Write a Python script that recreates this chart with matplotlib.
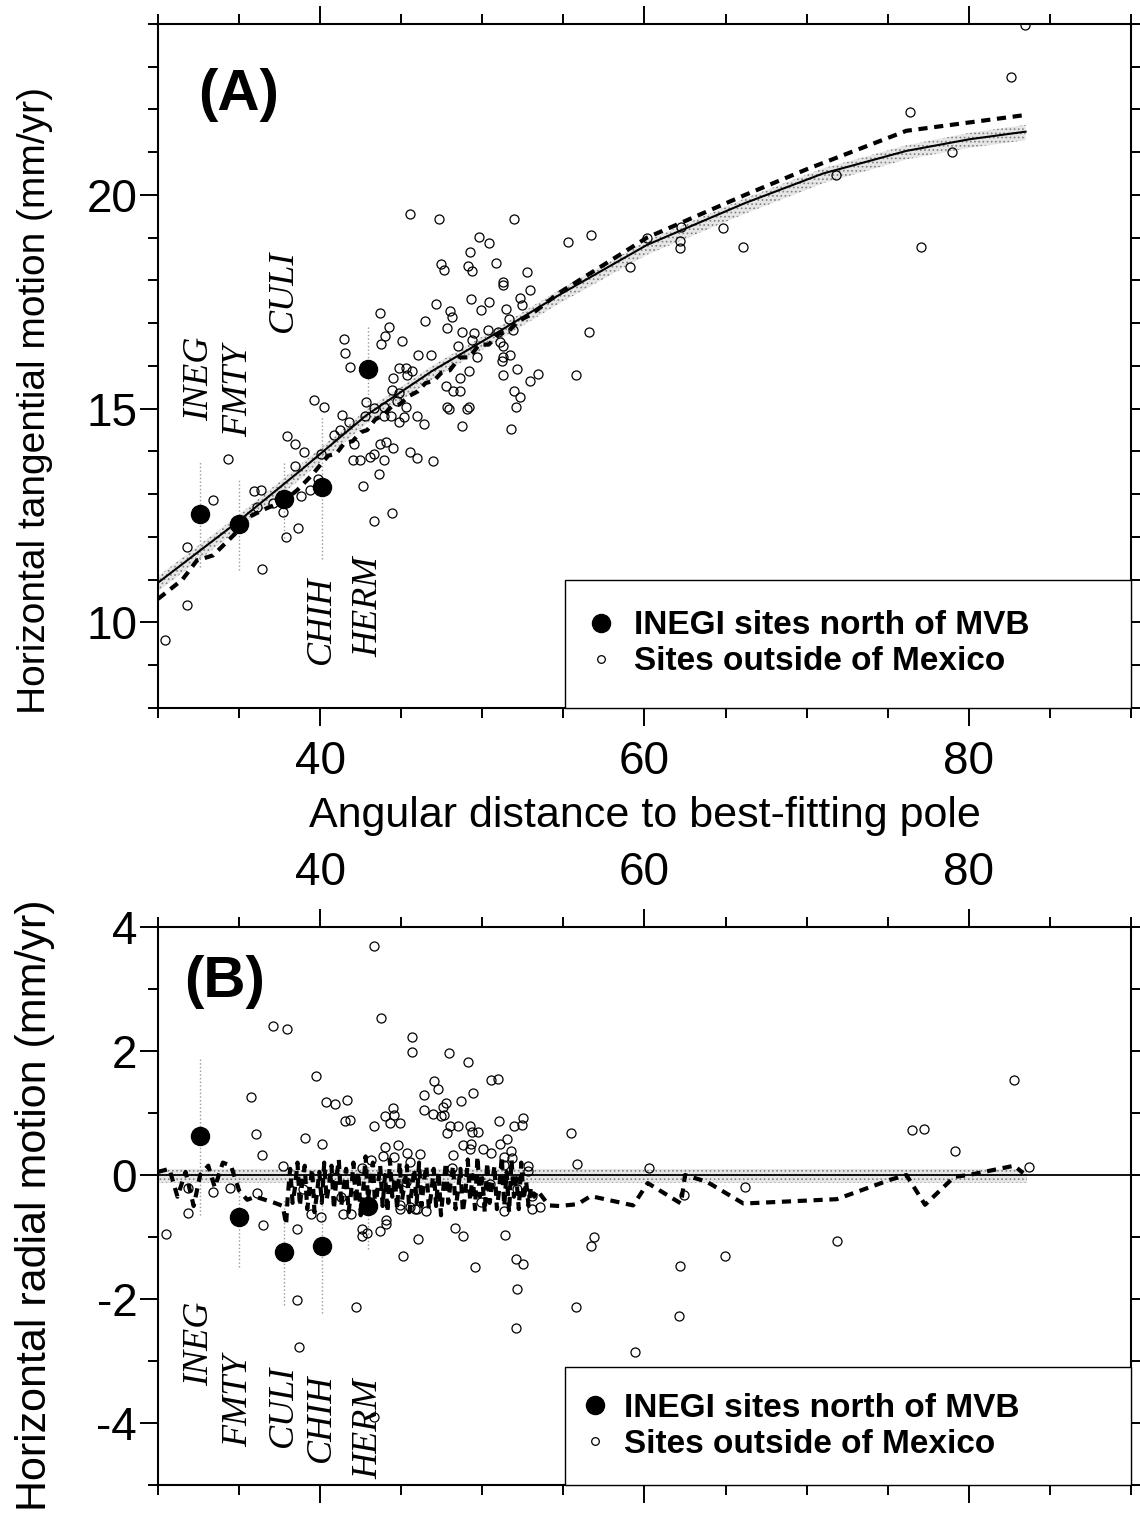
import matplotlib.pyplot as plt
from matplotlib.lines import Line2D
from matplotlib.ticker import FixedLocator, MultipleLocator

plt.rcParams['font.family'] = ['Liberation Sans', 'DejaVu Sans']
plt.rcParams['axes.unicode_minus'] = False
plt.rcParams['hatch.linewidth'] = 0.7

# INEGI sites north of the MVB (same sites in both panels)
inegi_names = ['INEG', 'FMTY', 'CULI', 'CHIH', 'HERM']
inegi_dist = [32.58, 34.98, 37.75, 40.09, 42.98]
inegi_tang = [12.53, 12.30, 12.88, 13.16, 15.92]
inegi_tang_err = [1.23, 1.08, 0.90, 1.67, 1.03]
inegi_rad = [0.63, -0.68, -1.24, -1.15, -0.50]
inegi_rad_err = [1.28, 0.80, 0.86, 1.08, 0.70]

# sites outside of Mexico, panel A (distance, tangential rate)
out_tang_dist = [83.48, 82.62, 76.40, 78.98, 71.78, 64.83, 62.25, 60.15, 66.06, 77.08,
                 55.29, 56.71, 59.11, 62.18, 62.18, 56.58, 55.78,
                 45.57, 47.35, 51.97, 49.82, 50.43, 49.26, 47.48, 47.66, 49.14, 49.38,
                 50.86, 52.77, 51.29, 51.29, 52.95, 52.34, 52.46, 49.32, 50.43, 47.17,
                 48.03, 48.15, 49.94, 51.48, 51.66, 43.66, 44.22, 43.97, 43.78, 41.45,
                 41.51, 41.82, 46.49, 47.85, 48.77, 45.02, 46.06, 46.86, 48.52, 49.51,
                 49.38, 50.37, 50.98, 51.11, 51.29, 51.91, 51.72, 51.23, 51.29, 49.69,
                 52.15, 51.29, 53.45, 52.95, 49.20, 48.65, 47.78, 48.22, 48.65, 51.97,
                 52.34, 52.09, 47.85, 47.97, 49.08, 49.20, 48.77, 51.78, 44.89, 45.32,
                 45.69, 45.38, 44.52, 44.40, 44.89, 44.71, 45.32, 42.80, 43.29, 43.91,
                 42.74, 43.91, 44.34, 45.20, 44.89, 46.00, 46.43, 39.60, 40.22, 41.32,
                 41.75, 41.20, 40.83, 42.06, 43.66, 44.03, 44.52, 45.51, 46.00, 46.98,
                 42.00, 42.43, 43.05, 43.35, 43.91, 43.60, 42.62, 38.98, 40.03, 39.35,
                 33.38, 34.31, 35.91, 36.34, 37.08, 37.69, 37.88, 38.62, 37.94, 38.43,
                 38.43, 38.80, 31.78, 31.78, 30.43, 36.40, 43.35, 44.46, 39.85, 36.09]
out_tang = [23.98, 22.76, 21.94, 21.01, 20.47, 19.23, 19.25, 18.99, 18.78, 18.78,
            18.90, 19.06, 18.31, 18.92, 18.76, 16.79, 15.78,
            19.56, 19.44, 19.44, 19.02, 18.88, 18.67, 18.38, 18.24, 18.34, 18.22,
            18.41, 18.20, 17.96, 17.89, 17.78, 17.59, 17.42, 17.56, 17.49, 17.45,
            17.28, 17.14, 17.31, 17.33, 17.10, 17.24, 16.91, 16.70, 16.51, 16.63,
            16.30, 15.97, 17.05, 16.89, 16.79, 16.58, 16.25, 16.25, 16.46, 16.77,
            16.60, 16.84, 16.79, 16.56, 16.46, 16.84, 16.25, 16.11, 16.21, 16.21,
            15.93, 15.78, 15.81, 15.64, 15.88, 15.71, 15.53, 15.41, 15.41, 15.41,
            15.27, 15.04, 15.04, 14.99, 14.99, 15.04, 14.59, 14.52, 15.95, 15.95,
            15.88, 15.78, 15.71, 15.43, 15.36, 15.18, 15.04, 15.15, 15.01, 15.04,
            14.82, 14.82, 14.82, 14.80, 14.68, 14.82, 14.64, 15.20, 15.04, 14.85,
            14.68, 14.50, 14.38, 14.17, 14.17, 14.22, 14.07, 13.98, 13.84, 13.77,
            13.79, 13.79, 13.86, 13.93, 13.79, 13.47, 13.19, 13.98, 13.93, 13.09,
            12.86, 13.82, 13.07, 13.09, 12.79, 12.58, 11.99, 12.22, 14.36, 14.17,
            13.65, 12.95, 11.76, 10.40, 9.58, 11.26, 12.37, 12.55, 13.35, 12.69]

# best-fitting model (solid), alternative model (dashed), stippled uncertainty band
model_dist = [30.0, 35.0, 38.74, 42.86, 46.9, 51.05, 54.74, 60.15, 66.2, 71.0, 76.15, 80.0, 83.5]
model_tang = [10.93, 12.38, 13.54, 14.85, 15.88, 16.81, 17.66, 18.83, 19.81, 20.5, 21.03, 21.3, 21.48]
band_lo = [10.73, 12.18, 13.34, 14.65, 15.68, 16.61, 17.46, 18.60, 19.56, 20.27, 20.83, 21.1, 21.28]
band_hi = [11.08, 12.52, 13.68, 14.98, 16.0, 16.92, 17.78, 18.93, 19.92, 20.62, 21.16, 21.45, 21.64]

alt_dist = [30.0, 31.5, 32.4, 33.4, 34.9, 35.5, 36.7, 37.8, 38.6, 39.5, 40.0, 40.5, 41.0,
            41.5, 42.0, 42.5, 42.9, 43.4, 43.9, 44.4, 44.9, 45.5, 46.0, 46.5, 47.0, 47.5,
            48.0, 48.6, 49.2, 49.8, 50.4, 51.0, 51.6, 52.2, 53.0, 54.7, 60.15, 66.2, 70.0,
            76.15, 83.5]
alt_tang = [10.55, 11.0, 11.45, 11.57, 12.13, 12.45, 12.67, 12.85, 13.1, 13.45, 13.68, 13.9,
            13.95, 14.2, 14.24, 14.45, 14.5, 14.75, 14.85, 15.05, 15.1, 15.3, 15.4, 15.6,
            15.65, 15.85, 15.9, 16.2, 16.2, 16.5, 16.5, 16.75, 16.8, 17.05, 17.2, 17.7,
            19.0, 20.0, 20.6, 21.5, 21.87]

# sites outside of Mexico, panel B (distance, radial rate)
out_rad_dist = [43.35, 43.78, 45.69, 45.69, 47.97, 49.14, 39.72, 47.05, 47.29, 46.43,
                49.45, 48.71, 50.55, 50.98, 40.34, 40.89, 41.63, 41.51, 41.82, 44.52,
                43.97, 44.58, 44.28, 44.95, 43.35, 46.43, 46.98, 47.48, 47.66, 47.60,
                47.78, 48.03, 48.52, 47.85, 49.26, 49.38, 49.75, 51.05, 51.97, 52.52,
                52.46, 51.54, 51.11, 50.06, 50.55, 48.83, 49.26, 49.32, 48.22, 39.05,
                40.09, 43.97, 44.77, 45.38, 46.18, 43.85, 44.58, 43.11, 45.57, 42.55,
                51.35, 51.78, 51.85, 51.35, 52.83, 52.83, 48.15, 40.95, 38.92, 50.49,
                45.32, 41.26, 52.15, 53.08, 44.95, 44.95, 45.51, 45.82, 46.00, 46.55,
                49.94, 51.35, 53.08, 53.57, 41.38, 41.88, 39.42, 40.03, 44.09, 44.09,
                43.66, 42.55, 42.55, 42.86, 46.06, 48.34, 48.83, 51.42,
                37.08, 37.94, 35.72, 36.03, 36.40, 37.69, 31.85, 33.38, 34.43, 36.09,
                31.85, 30.49, 36.46, 38.55, 38.55, 38.68, 42.18, 45.08, 49.57, 52.09,
                52.52, 52.15, 52.09, 55.78, 56.71, 56.89, 59.42, 43.35,
                55.48, 55.85, 60.28, 62.43, 66.18, 76.52, 77.26, 79.17, 82.80, 83.72,
                62.18, 62.12, 64.95, 71.85]
out_rad = [3.69, 2.54, 2.23, 1.99, 1.96, 1.83, 1.60, 1.52, 1.39, 1.29,
           1.33, 1.20, 1.54, 1.55, 1.18, 1.15, 1.21, 0.87, 0.89, 1.08,
           0.95, 0.97, 0.84, 0.84, 0.79, 1.05, 0.99, 0.95, 0.97, 1.10,
           1.16, 0.79, 0.79, 0.68, 0.79, 0.70, 0.70, 0.87, 0.79, 0.92,
           0.81, 0.58, 0.50, 0.42, 0.36, 0.49, 0.42, 0.50, 0.32, 0.60,
           0.50, 0.45, 0.49, 0.36, 0.34, 0.31, 0.29, 0.24, 0.21, 0.11,
           0.29, 0.39, 0.27, 0.16, 0.15, 0.06, 0.11, -0.03, -0.23, -0.15,
           -0.11, -0.36, -0.23, -0.34, -0.49, -0.55, -0.52, -0.55, -0.55, -0.58,
           -0.44, -0.58, -0.55, -0.52, -0.63, -0.63, -0.63, -0.68, -0.73, -0.79,
           -0.91, -0.87, -0.99, -0.94, -1.03, -0.86, -0.99, -0.97,
           2.41, 2.36, 1.26, 0.66, 0.32, 0.15, -0.21, -0.27, -0.21, -0.29,
           -0.61, -0.95, -0.81, -0.87, -2.02, -2.78, -2.13, -1.31, -1.49, -1.36,
           -1.44, -1.84, -2.46, -2.13, -1.15, -1.00, -2.86, -3.91,
           0.68, 0.18, 0.11, -0.32, -0.19, 0.73, 0.74, 0.39, 1.54, 0.13,
           -1.46, -2.28, -1.31, -1.07]

# predicted radial rates at the sites (dashed) and stippled band about zero
alt_rad_dist = [30.0, 30.7, 31.2, 31.7, 32.2, 32.6, 33.1, 33.5, 34.0, 34.5, 35.0, 35.5,
                36.0, 36.6, 37.2, 37.7, 37.9,
                38.0, 38.15, 38.3, 38.45, 38.6, 38.75, 38.9, 39.05, 39.2, 39.35, 39.5,
                39.65, 39.8, 39.95, 40.1, 40.25, 40.4, 40.55, 40.7, 40.85, 41.0, 41.15,
                41.3, 41.45, 41.6, 41.75, 41.9, 42.05, 42.2, 42.35, 42.5, 42.65, 42.8,
                42.95, 43.1, 43.25, 43.4, 43.55, 43.7, 43.85, 44.0, 44.15, 44.3, 44.45,
                44.6, 44.75, 44.9, 45.05, 45.2, 45.35, 45.5, 45.65, 45.8, 45.95, 46.1,
                46.25, 46.4, 46.55, 46.7, 46.85, 47.0, 47.15, 47.3, 47.45, 47.6, 47.75,
                47.9, 48.05, 48.2, 48.35, 48.5, 48.65, 48.8, 48.95, 49.1, 49.25, 49.4,
                49.55, 49.7, 49.85, 50.0, 50.15, 50.3, 50.45, 50.6, 50.75, 50.9, 51.05,
                51.2, 51.35, 51.5, 51.65, 51.8, 51.95, 52.1, 52.25, 52.4, 52.55, 52.7,
                52.85, 53.0, 53.2, 53.4,
                54.1, 54.74, 55.88, 56.68, 59.3, 60.2, 61.57, 62.25, 62.5, 63.85, 66.1,
                71.85, 75.23, 76.15, 77.3, 79.1, 80.0, 82.8, 83.35]
alt_rad = [0.05, 0.1, -0.35, 0.05, -0.5, 0.0, 0.15, -0.2, 0.2, 0.15, -0.25, -0.4,
           -0.35, -0.4, -0.45, -0.5, -0.8,
           -0.35, 0.1, -0.45, -0.2, 0.2, -0.5, -0.1, 0.15, -0.55, -0.25, 0.1,
           -0.6, -0.3, 0.05, -0.45, 0.2, -0.4, -0.15, 0.15, -0.55, -0.05, 0.25,
           -0.5, -0.2, 0.1, -0.6, -0.3, 0.2, -0.45, 0.05, -0.65, -0.25, 0.3,
           -0.4, -0.1, 0.2, -0.55, -0.2, 0.15, -0.5, 0.0, -0.6, 0.25, -0.35,
           -0.05, -0.55, 0.2, -0.4, -0.15, 0.15, -0.6, -0.25, 0.1, -0.45, 0.2,
           -0.5, -0.1, 0.15, -0.55, -0.3, 0.1, -0.5, 0.05, -0.65, -0.2, 0.2,
           -0.45, -0.1, 0.15, -0.55, -0.25, 0.1, -0.6, -0.3, 0.25, -0.4, 0.0,
           -0.55, 0.3, -0.35, -0.05, -0.6, 0.2, -0.45, -0.15, 0.15, -0.55, -0.2,
           0.3, -0.5, 0.05, -0.6, 0.25, -0.35, -0.05, -0.55, 0.2, -0.4, -0.1,
           -0.5, -0.2, -0.35, -0.25,
           -0.49, -0.5, -0.47, -0.34, -0.49, -0.13, -0.35, -0.46, 0.0, -0.11, -0.46,
           -0.39, -0.07, 0.0, -0.48, -0.03, 0.0, 0.15, 0.03]
rad_band_dist = [30.0, 83.6]
rad_band_lo = [-0.13, -0.13]
rad_band_hi = [0.1, 0.1]

# y positions of the rotated site names
name_y_a = [15.69, 15.43, 17.75, 10.05, 10.37]
name_y_b = [-2.72, -3.64, -3.72, -3.91, -4.09]


def style_axis(ax, yticks):
    ax.set_xlim(30, 90)
    ax.xaxis.set_major_locator(FixedLocator([40, 60, 80]))
    ax.xaxis.set_minor_locator(MultipleLocator(5))
    ax.yaxis.set_major_locator(FixedLocator(yticks))
    ax.yaxis.set_minor_locator(MultipleLocator(1))
    ax.tick_params(which='both', direction='out', top=True, right=True, width=1.4,
                   labelsize=33)
    ax.tick_params(which='major', length=13)
    ax.tick_params(which='minor', length=7)
    ax.tick_params(axis='y', pad=2)
    ax.tick_params(axis='x', pad=10)
    for s in ax.spines.values():
        s.set_linewidth(1.5)


def add_legend(ax, borderpad, textpad):
    handles = [Line2D([], [], ls='none', marker='o', ms=13, mfc='black', mec='black'),
               Line2D([], [], ls='none', marker='o', ms=5.5, mfc='white', mec='black', mew=0.9)]
    labels = ['INEGI sites north of MVB', 'Sites outside of Mexico']
    leg = ax.legend(handles, labels, loc='lower left', bbox_to_anchor=(0.418, 0, 0.582, 0.2),
                    mode='expand', borderaxespad=0, fancybox=False, framealpha=1,
                    edgecolor='black', borderpad=borderpad, labelspacing=0.15,
                    handlelength=0.32, handletextpad=textpad,
                    prop={'size': 24, 'weight': 'bold'})
    leg.get_frame().set_linewidth(1.0)


fig = plt.figure(figsize=(11.4, 15.14), dpi=100)

# ---------------- panel A ----------------
ax1 = fig.add_axes([0.1386, 0.5324, 0.8535, 0.4518])
ax1.fill_between(model_dist, band_lo, band_hi, facecolor='0.9', edgecolor='0.5',
                 hatch='....', linewidth=0, zorder=1)
ax1.plot(model_dist, model_tang, color='black', lw=1.5, zorder=2)
ax1.plot(alt_dist, alt_tang, color='black', lw=3, ls=(0, (2.2, 1.6)), zorder=2)
ax1.vlines(inegi_dist, [v - e for v, e in zip(inegi_tang, inegi_tang_err)],
           [v + e for v, e in zip(inegi_tang, inegi_tang_err)],
           colors='0.6', linestyles=':', lw=1, zorder=1)
ax1.plot(out_tang_dist, out_tang, ls='none', marker='o', ms=6.5, mfc='none', mec='black',
         mew=0.9, zorder=3)
ax1.plot(inegi_dist, inegi_tang, ls='none', marker='o', ms=13, color='black', zorder=4)
for name, x, y in zip(inegi_names, inegi_dist, name_y_a):
    ax1.text(x, y, name, rotation=90, ha='center', va='center', fontsize=26,
             family='Liberation Serif', style='italic')
ax1.set_ylim(8, 24)
style_axis(ax1, [10, 15, 20])
ax1.tick_params(axis='x', labelbottom=True, labeltop=False)
add_legend(ax1, 0.92, 0.83)

# ---------------- panel B ----------------
ax2 = fig.add_axes([0.1386, 0.01915, 0.8535, 0.36856])
ax2.fill_between(rad_band_dist, rad_band_lo, rad_band_hi, facecolor='0.9',
                 edgecolor='0.5', hatch='....', linewidth=0, zorder=1)
ax2.axhline(0, color='black', lw=1.3, zorder=2)
ax2.plot(alt_rad_dist, alt_rad, color='black', lw=3, ls=(0, (2.2, 1.6)), zorder=2)
ax2.vlines(inegi_dist, [v - e for v, e in zip(inegi_rad, inegi_rad_err)],
           [v + e for v, e in zip(inegi_rad, inegi_rad_err)],
           colors='0.6', linestyles=':', lw=1, zorder=1)
ax2.plot(out_rad_dist, out_rad, ls='none', marker='o', ms=6.5, mfc='none', mec='black',
         mew=0.9, zorder=3)
ax2.plot(inegi_dist, inegi_rad, ls='none', marker='o', ms=13, color='black', zorder=4)
for name, x, y in zip(inegi_names, inegi_dist, name_y_b):
    ax2.text(x, y, name, rotation=90, ha='center', va='center', fontsize=26,
             family='Liberation Serif', style='italic')
ax2.set_ylim(-5, 4)
style_axis(ax2, [-4, -2, 0, 2, 4])
ax2.tick_params(axis='x', labelbottom=False, labeltop=True)
add_legend(ax2, 0.76, 0.7)

# panel letters and axis titles
fig.text(0.2096, 0.9373, '(A)', fontsize=42, fontweight='bold', ha='center', va='center')
fig.text(0.1974, 0.3514, '(B)', fontsize=42, fontweight='bold', ha='center', va='center')
fig.text(0.5658, 0.4610, 'Angular distance to best-fitting pole', fontsize=31,
         ha='center', va='center')
fig.text(0.0307, 1 - 401 / 1514, 'Horizontal tangential motion (mm/yr)', fontsize=28,
         rotation=90, ha='center', va='center')
fig.text(0.0307, 1 - 1205 / 1514, 'Horizontal radial motion (mm/yr)', fontsize=31,
         rotation=90, ha='center', va='center')

fig.savefig('out.png', dpi=100)
